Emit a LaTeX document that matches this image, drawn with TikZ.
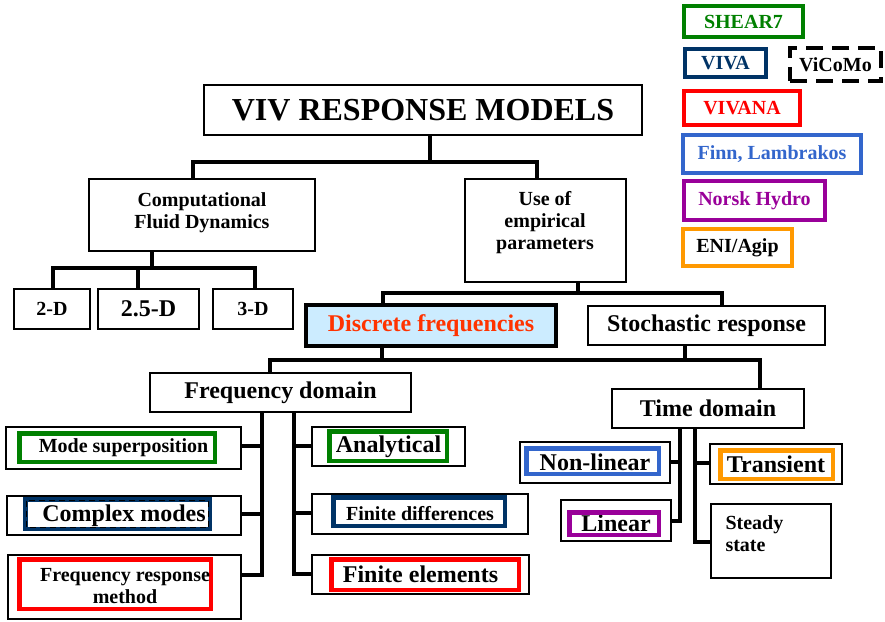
\documentclass[tikz,border=0pt]{standalone}
\usepackage{fontspec}
\setmainfont{Liberation Serif}
\usepackage{tikz}
\definecolor{shgreen}{HTML}{008000}
\definecolor{vivanavy}{HTML}{003366}
\definecolor{vivared}{HTML}{FF0000}
\definecolor{finnblue}{HTML}{3366CC}
\definecolor{nhpurple}{HTML}{990099}
\definecolor{eniorange}{HTML}{FF9900}
\definecolor{dfblue}{HTML}{CCECFF}
\definecolor{dfred}{HTML}{FF3300}

\begin{document}
\begin{tikzpicture}[line join=miter,x=1pt,y=-1pt,
    box/.style={draw=black,line width=1.6pt,fill=white,inner sep=0pt},
    colbox/.style={draw=#1,line width=4.5pt,inner sep=0pt},
    conn/.style={line width=4.5pt},
    txtsm/.style={font=\bfseries\fontsize{20}{22}\selectfont},
    txtbg/.style={font=\bfseries\fontsize{24}{26}\selectfont}]
        \useasboundingbox (0,0) rectangle (885,621);
        % legend
        \node[colbox=shgreen,txtsm,text=shgreen,minimum width=119,minimum height=31] (shear) at (743.5,21.5) {SHEAR7};
        \node[colbox=vivanavy,txtsm,text=vivanavy,minimum width=81,minimum height=28] (viva) at (725.5,63) {VIVA};
        \node[colbox=black,dash pattern=on 17pt off 9pt,txtsm,minimum width=91,minimum height=33] (vicomo) at (835.5,64.5) {ViCoMo};
        \node[colbox=vivared,txtsm,text=vivared,minimum width=116,minimum height=34] (vivana) at (742,108) {VIVANA};
        \node[colbox=finnblue,txtsm,text=finnblue,minimum width=178,minimum height=38] (finn) at (772,154) {Finn, Lambrakos};
        \node[colbox=nhpurple,txtsm,text=nhpurple,minimum width=141,minimum height=39] (norsk) at (754.5,200.5) {Norsk Hydro};
        \node[colbox=eniorange,txtsm,minimum width=109,minimum height=37] (eni) at (737.5,247.5) {ENI/Agip};
        % tree
        \node[box,font=\bfseries\fontsize{32}{34}\selectfont,minimum width=438,minimum height=50] (title) at (423,110) {VIV RESPONSE MODELS};
        \node[box,minimum width=226,minimum height=72] (cfd) at (202,215) {};
        \node[txtsm,align=center] (cfdtxt) at (202,213) {Computational\\Fluid Dynamics};
        \node[box,minimum width=161,minimum height=103] (useof) at (545.5,230.5) {};
        \node[txtsm,align=center] (useoftxt) at (545,223) {Use of\\empirical\\parameters};
        \node[box,txtsm,minimum width=76,minimum height=40] (d2) at (52,309) {2-D};
        \node[box,txtbg,minimum width=101,minimum height=40] (d25) at (148.5,309) {2.5-D};
        \node[box,txtsm,minimum width=80,minimum height=40] (d3) at (253,309) {3-D};
        \node[box,line width=4pt,fill=dfblue,text=dfred,txtbg,minimum width=250,minimum height=41] (df) at (431,325.5) {Discrete frequencies};
        \node[box,txtbg,minimum width=237,minimum height=39] (sto) at (706.5,325.5) {Stochastic response};
        \node[box,txtbg,minimum width=261,minimum height=39] (fd) at (280.5,392.5) {Frequency domain};
        \node[box,txtbg,minimum width=192,minimum height=39] (td) at (708,408.5) {Time domain};
        % frequency domain leaves
        \node[box,txtsm,minimum width=235,minimum height=42] (mode) at (123.5,448) {Mode superposition};
        \node[box,txtbg,minimum width=234,minimum height=39] (cplx) at (124,515.5) {Complex modes};
        \node[box,minimum width=233,minimum height=64] (frm) at (124.5,587) {};
        \node[box,txtbg,minimum width=153,minimum height=39] (ana) at (388.5,446.5) {Analytical};
        \node[box,txtsm,minimum width=216,minimum height=40] (fdiff) at (420,514) {Finite differences};
        \node[box,txtbg,minimum width=217,minimum height=39] (fe) at (420.5,574.5) {Finite elements};
        \node[colbox=shgreen,minimum width=195.5,minimum height=28.5] (modec) at (117,447.5) {};
        \node[colbox=vivanavy,minimum width=184.5,minimum height=29.5] (cplxc) at (117.5,514) {};
        \draw[black,line width=1.2pt,dash pattern=on 6pt off 4pt] ([shift={(3.5,3.5)}]cplxc.north west) rectangle ([shift={(-3.5,-3.5)}]cplxc.south east);
        \node[colbox=vivared,minimum width=191.5,minimum height=49.5] (frmc) at (115,584) {};
        \node[txtsm,align=center] (frmtxt) at (125,586) {Frequency response\\method};
        \node[colbox=shgreen,minimum width=117.5,minimum height=29.5] (anac) at (388,446) {};
        \node[colbox=vivanavy,minimum width=171.5,minimum height=28.5] (fdiffc) at (419,511.5) {};
        \node[colbox=vivared,minimum width=187.5,minimum height=30.5] (fec) at (425,574.5) {};
        % time domain leaves
        \node[box,txtbg,minimum width=150,minimum height=41] (nl) at (595,462.5) {Non-linear};
        \node[box,txtbg,minimum width=110,minimum height=41] (lin) at (616,520.5) {\raisebox{-2.5pt}[\height][0pt]{Linear}};
        \node[box,txtbg,minimum width=132,minimum height=40] (tr) at (776,464) {Transient};
        \node[box,minimum width=120,minimum height=74] (ss) at (771,541) {};
        \node[txtsm,align=left,anchor=west] (sstxt) at (722,534) {Steady\\state};
        \node[colbox=finnblue,minimum width=132.5,minimum height=25.5] (nlc) at (592.5,461) {};
        \node[colbox=nhpurple,minimum width=89.5,minimum height=22.5] (linc) at (614,523.5) {};
        \node[colbox=eniorange,minimum width=112.5,minimum height=28.5] (trc) at (776.5,464.5) {};
        % connectors
        \coordinate (a0) at (430,162);
        \coordinate (a1) at (193,162);
        \coordinate (a2) at (537,162);
        \draw[conn] (a0 |- title.south) -- (a0);
        \draw[conn] (a1 |- cfd.north) -- (a1) -- (a2) -- (a2 |- useof.north);
        \coordinate (b0) at (152,268);
        \coordinate (b1) at (53,268);
        \coordinate (b2) at (138,268);
        \coordinate (b3) at (255,268);
        \draw[conn] (b0 |- cfd.south) -- (b0);
        \draw[conn] (b1 |- d2.north) -- (b1) -- (b3) -- (b3 |- d3.north);
        \draw[conn] (b2) -- (b2 |- d25.north);
        \coordinate (c0) at (578,293);
        \coordinate (c1) at (383,293);
        \coordinate (c2) at (722,293);
        \draw[conn] (c0 |- useof.south) -- (c0);
        \draw[conn] (c1 |- df.north) -- (c1) -- (c2) -- (c2 |- sto.north);
        \coordinate (e1) at (270,360);
        \coordinate (e2) at (760,360);
        \coordinate (e3) at (382,360);
        \coordinate (e4) at (685,360);
        \draw[conn] (e3 |- df.south) -- (e3);
        \draw[conn] (e4 |- sto.south) -- (e4);
        \draw[conn] (e1 |- fd.north) -- (e1) -- (e2) -- (e2 |- td.north);
        \coordinate (f1) at (262,446);
        \coordinate (f2) at (262,514);
        \coordinate (f3) at (262,575);
        \draw[conn] (f1 |- fd.south) -- (f3) -- (f3 -| frm.east);
        \draw[conn] (f1) -- (f1 -| mode.east);
        \draw[conn] (f2) -- (f2 -| cplx.east);
        \coordinate (g1) at (294,446);
        \coordinate (g2) at (294,513);
        \coordinate (g3) at (294,574);
        \draw[conn] (g1 |- fd.south) -- (g3) -- (g3 -| fe.west);
        \draw[conn] (g1) -- (g1 -| ana.west);
        \draw[conn] (g2) -- (g2 -| fdiff.west);
        \coordinate (h1) at (680,462);
        \coordinate (h2) at (680,521);
        \draw[conn] (h1 |- td.south) -- (h2) -- (h2 -| lin.east);
        \draw[conn] (h1) -- (h1 -| nl.east);
        \coordinate (k1) at (695,463);
        \coordinate (k2) at (695,542);
        \draw[conn] (k1 |- td.south) -- (k2) -- (k2 -| ss.west);
        \draw[conn] (k1) -- (k1 -| tr.west);
\end{tikzpicture}
\end{document}
